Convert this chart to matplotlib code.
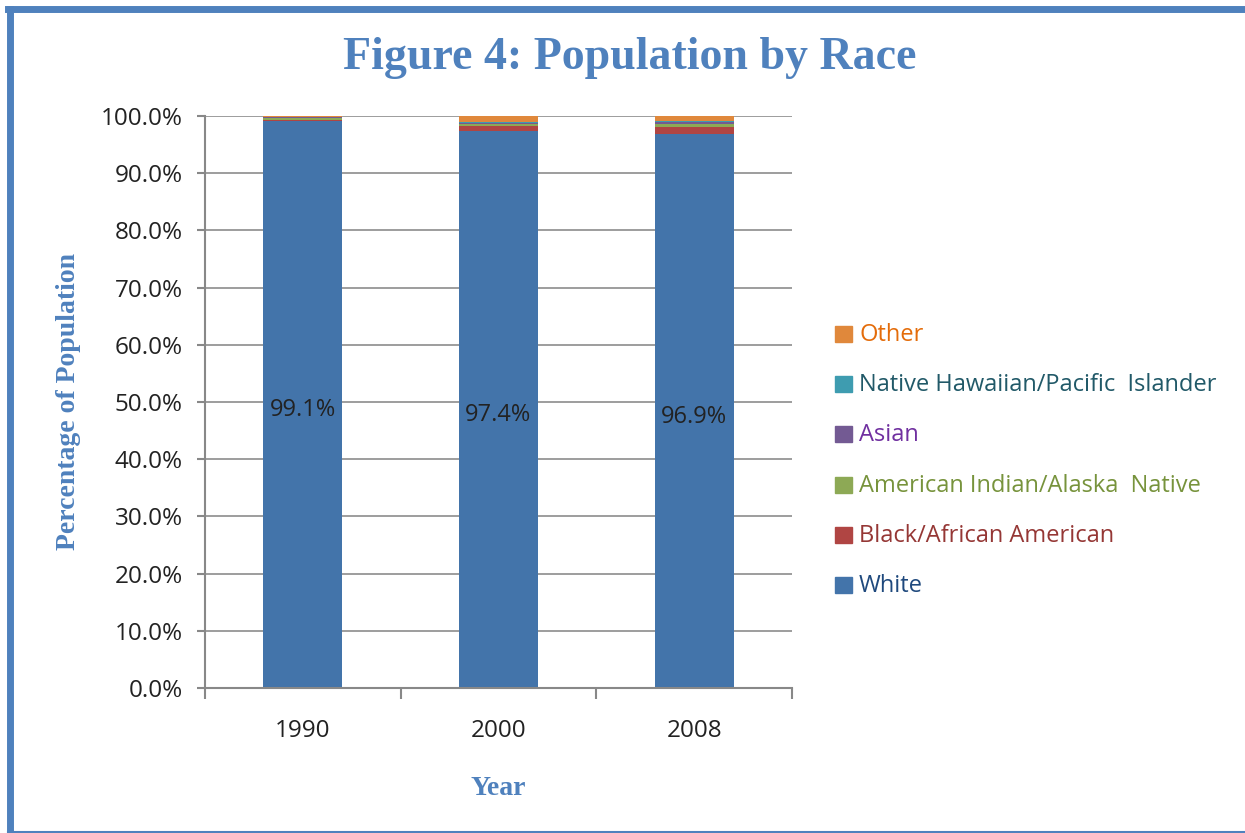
import matplotlib.pyplot as plt
from matplotlib.lines import Line2D
import numpy as np

years = ['1990', '2000', '2008']
white = [99.1, 97.4, 96.9]
black = [0.2, 0.8, 1.25]
amind = [0.35, 0.4, 0.5]
asian = [0.1, 0.2, 0.25]
pacific = [0.05, 0.1, 0.3]
other = [0.2, 1.1, 0.8]

series = [
    ('White', white, '#4374AA', '#1F497D'),
    ('Black/African American', black, '#B04543', '#953735'),
    ('American Indian/Alaska  Native', amind, '#8DA955', '#77933C'),
    ('Asian', asian, '#735A93', '#7030A0'),
    ('Native Hawaiian/Pacific  Islander', pacific, '#3E9CB0', '#215968'),
    ('Other', other, '#E0883B', '#E46C0A'),
]

blue = '#4F81BD'
sans = ['Open Sans', 'DejaVu Sans']
serif = ['Liberation Serif', 'DejaVu Serif']

fig = plt.figure(figsize=(12.45, 8.33), dpi=100)
ax = fig.add_axes([205 / 1245, 1 - 688 / 833, 587 / 1245, 572 / 833])

x = np.arange(len(years))
bottom = np.zeros(len(years))
for name, vals, col, tcol in series:
    ax.bar(x, vals, 0.405, bottom=bottom, color=col, zorder=2)
    bottom += np.array(vals)

# labels on white segments
for i, v in enumerate(white):
    ax.text(x[i], v / 2 - 1, f'{v:.1f}%', ha='center', va='center',
            fontsize=17, family=sans, color='#222222', zorder=3)

ax.set_xlim(-0.5, 2.5)
ax.set_ylim(0, 100)
ax.set_yticks(np.arange(0, 101, 10))
ax.set_yticklabels([f'{t:.1f}%' for t in np.arange(0, 101, 10)],
                   fontsize=17.5, family=sans, color='#222222')
ax.set_xticks(x)
ax.set_xticklabels(years, fontsize=17.5, family=sans, color='#222222')
ax.tick_params(axis='x', length=0, pad=22)
ax.set_xticks([-0.5, 0.5, 1.5, 2.5], minor=True)
ax.tick_params(axis='x', which='minor', length=8, color='#888888', width=1.5)
ax.tick_params(axis='y', length=6, color='#888888', width=1.5, pad=10)
ax.yaxis.grid(True, color='#8c8c8c', lw=1.2, zorder=0)
for s in ['top', 'right']:
    ax.spines[s].set_visible(False)
for s in ['left', 'bottom']:
    ax.spines[s].set_color('#888888')
    ax.spines[s].set_linewidth(1.5)
ax.spines['bottom'].set_zorder(4)

ax.set_xlabel('Year', fontsize=20, fontweight='bold', family=serif,
              color=blue, labelpad=24)
ax.set_ylabel('Percentage of Population', fontsize=20, fontweight='bold',
              family=serif, color=blue, labelpad=14)

fig.text(630 / 1245, 1 - 58 / 833, 'Figure 4: Population by Race',
         ha='center', va='center', fontsize=33, fontweight='bold',
         family=serif, color=blue)

# legend drawn as boxes with coloured text
ypos = [586, 536, 486, 435, 385, 335]
for (name, vals, col, tcol), yp in zip(series, ypos):
    fig.patches.append(plt.Rectangle((835 / 1245, 1 - (yp + 7) / 833),
                                     17 / 1245, 16 / 833, color=col,
                                     transform=fig.transFigure, figure=fig))
    fig.text(859 / 1245, 1 - yp / 833, name, ha='left', va='center',
             fontsize=17, family=sans, color=tcol)

# border
fig.add_artist(Line2D([10 / 1245, 10 / 1245], [0, 1 - 9 / 833],
                      transform=fig.transFigure, color=blue, lw=5))
fig.add_artist(Line2D([8 / 1245, 1], [1 - 9 / 833, 1 - 9 / 833],
                      transform=fig.transFigure, color=blue, lw=5))
fig.add_artist(Line2D([8 / 1245, 1], [1 / 833, 1 / 833],
                      transform=fig.transFigure, color=blue, lw=1.5))

fig.savefig('out.png', dpi=100)
